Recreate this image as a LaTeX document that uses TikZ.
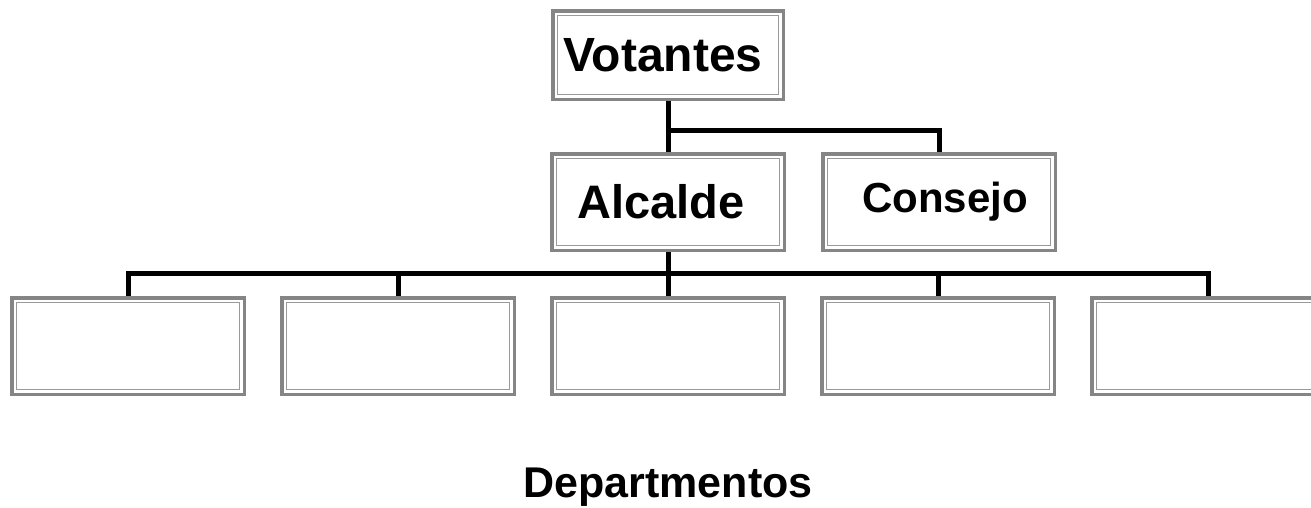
\documentclass[tikz,border=0pt]{standalone}
\usepackage{fontspec}
\setmainfont{Liberation Sans}
\usepackage{tikz}
\usetikzlibrary{positioning, calc}

\definecolor{boxgray}{HTML}{858585}
\definecolor{innergray}{HTML}{9A9A9A}

\tikzset{
  orgbox/.style={draw=boxgray, line width=3.5pt, fill=white,
    minimum width=232.5pt, minimum height=96.5pt, inner sep=0pt,
    font=\bfseries,
    path picture={\draw[innergray, line width=1pt]
      ($(path picture bounding box.south west)+(5pt,5pt)$) rectangle
      ($(path picture bounding box.north east)-(5pt,5pt)$);}},
  conn/.style={line width=5pt, black}
}

\begin{document}
\begin{tikzpicture}[x=1pt, y=-1pt, node distance=34pt]
  \useasboundingbox (0,0) rectangle (1311,507);
  % top level
  \node (votantes) [orgbox, minimum width=230.5pt, minimum height=88.5pt]
    at (668,55) {\fontsize{48}{56}\selectfont Votantes\hspace*{10pt}};
  \node (alcalde) [orgbox, below=51pt of votantes] {\fontsize{47}{56}\selectfont Alcalde\hspace*{14pt}};
  \node (consejo) [orgbox, right=35pt of alcalde] {\fontsize{42}{50}\selectfont\hspace*{12pt}Consejo};
  % departments
  \node (dept3) [orgbox, below=44pt of alcalde] {};
  \node (dept2) [orgbox, left=of dept3] {};
  \node (dept1) [orgbox, left=of dept2] {};
  \node (dept4) [orgbox, right=of dept3] {};
  \node (dept5) [orgbox, right=of dept4] {};
  \node (deptlabel) [below=68pt of dept3, font=\bfseries\fontsize{43}{50}\selectfont] {Departmentos};
  % connectors
  \coordinate (topbus) at ([yshift=-29pt]votantes.south);
  \coordinate (lowbus) at ([yshift=-21pt]alcalde.south);
  \draw[conn] (votantes.south) -- (alcalde.north);
  \draw[conn] (topbus) -| (consejo.north);
  \draw[conn] (alcalde.south) -- (dept3.north);
  \draw[conn] (lowbus) -| (dept1.north);
  \draw[conn] (lowbus) -| (dept2.north);
  \draw[conn] (lowbus) -| (dept4.north);
  \draw[conn] (lowbus) -| (dept5.north);
\end{tikzpicture}
\end{document}
